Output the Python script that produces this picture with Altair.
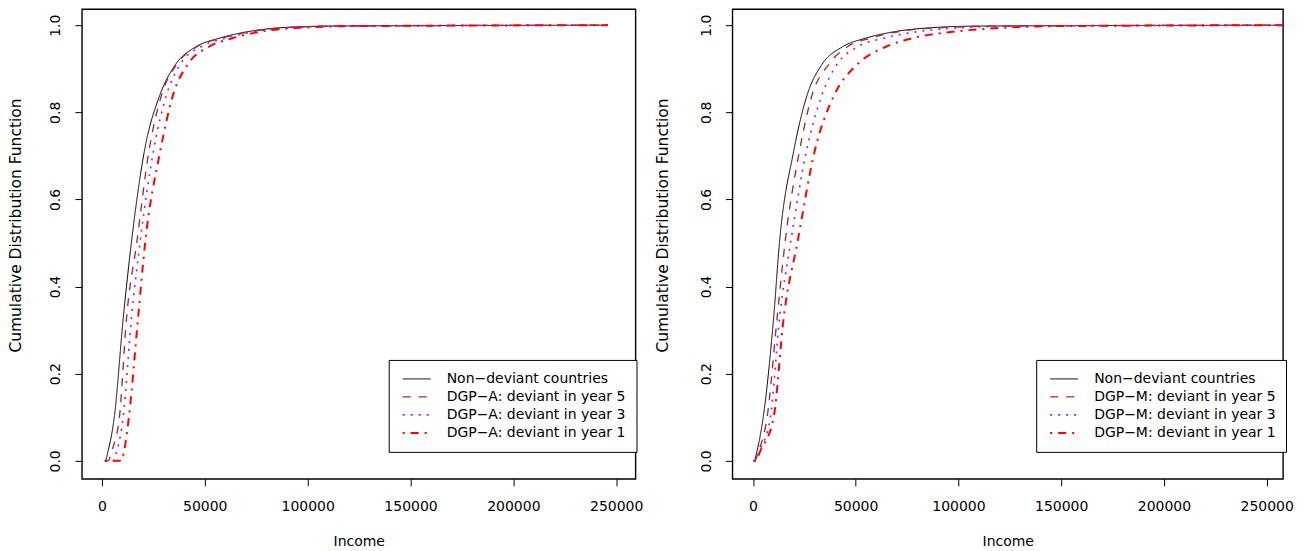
import altair as alt
import pandas as pd

# CDF levels shared by all curves (first two zeros: common start, then leave point)
cdf_levels = [0, 0, 0.023, 0.1, 0.33, 0.5, 0.71, 0.84, 0.91, 0.95, 0.97, 0.986, 0.994, 0.998, 1.0]

# Left panel (DGP-A): income at each CDF level
left_nondeviant = [1400, 1600, 3000, 6000, 10400, 14300, 20600, 28200, 35800, 45500, 57000, 72000, 86500, 112000, 246000]
left_year5 = [1400, 3000, 4800, 8500, 12000, 16900, 22800, 29000, 36300, 46000, 58000, 73000, 88000, 115000, 246000]
left_year3 = [1400, 5500, 7300, 10300, 14400, 18500, 25000, 31400, 38000, 48000, 60000, 75000, 90000, 118000, 246000]
left_year1 = [1400, 9300, 10800, 13100, 17600, 21000, 28300, 34600, 41700, 51800, 63400, 78300, 96000, 125000, 246000]

# Right panel (DGP-M)
right_nondeviant = [300, 600, 2000, 5000, 10100, 12900, 19800, 26400, 33600, 43400, 54700, 70100, 86300, 110000, 262000]
right_year5 = [300, 800, 2800, 6900, 11800, 15600, 22600, 28800, 36900, 45800, 57100, 71700, 90000, 120000, 262000]
right_year3 = [300, 1000, 3200, 8500, 13000, 18300, 26000, 33600, 40900, 50700, 63600, 81400, 100000, 130000, 262000]
right_year1 = [300, 1200, 3600, 10100, 15000, 21600, 30000, 39600, 50800, 64500, 77500, 99300, 121800, 150000, 262000]

left_labels = ["Non\u2212deviant countries", "DGP\u2212A: deviant in year 5",
               "DGP\u2212A: deviant in year 3", "DGP\u2212A: deviant in year 1"]
right_labels = ["Non\u2212deviant countries", "DGP\u2212M: deviant in year 5",
                "DGP\u2212M: deviant in year 3", "DGP\u2212M: deviant in year 1"]

x_ticks = [0, 50000, 100000, 150000, 200000, 250000]
y_ticks = [0.0, 0.2, 0.4, 0.6, 0.8, 1.0]

colors = ["#000000", "#A52A2A", "#A020F0", "#FF0000"]
dashes = [[1, 0], [8, 8], [2, 6], [2, 6, 8, 6]]
widths = [1, 2, 2, 2]

FONT = "DejaVu Sans"


def make_df(labels, series):
    rows = []
    for lab, inc in zip(labels, series):
        for x, c in zip(inc, cdf_levels):
            rows.append({"series": lab, "income": x, "cdf": c})
    return pd.DataFrame(rows)


def panel(df, labels, xdom, title_x, legend_x, width):
    leg = alt.Legend(
        title=None, orient="none", legendX=legend_x, legendY=351,
        symbolType="stroke", symbolSize=784, labelFont=FONT, labelFontSize=14,
        labelColor="black", strokeColor="black", fillColor="white", padding=10,
        clipHeight=18, rowPadding=0, labelOffset=15, symbolOffset=3, labelLimit=400,
        cornerRadius=0,
    )
    return alt.Chart(df).mark_line(clip=True, interpolate="monotone").encode(
        x=alt.X("income:Q",
                scale=alt.Scale(domain=xdom, nice=False, zero=False),
                axis=alt.Axis(values=x_ticks, format="d", title="Income", grid=False, domain=False,
                              tickColor="black", tickSize=7, tickWidth=1,
                              labelColor="black", labelFont=FONT, labelFontSize=14,
                              labelPadding=14, labelFlush=False, labelOverlap=False,
                              titleFont=FONT, titleFontSize=14, titleFontWeight="normal",
                              titleColor="black", titleY=67, titleBaseline="alphabetic")),
        y=alt.Y("cdf:Q",
                scale=alt.Scale(domain=[-0.0413, 1.0367], nice=False, zero=False),
                axis=alt.Axis(values=y_ticks, format=".1f", title="Cumulative Distribution Function",
                              grid=False, domain=False, tickColor="black", tickSize=7, tickWidth=1,
                              labelColor="black", labelFont=FONT, labelFontSize=14,
                              labelAngle=270, labelAlign="center", labelBaseline="alphabetic",
                              labelPadding=15, labelFlush=False, labelOverlap=False,
                              titleFont=FONT, titleFontSize=15.5, titleFontWeight="normal",
                              titleColor="black", titleAngle=270, titleX=title_x, titleY=216,
                              titleAlign="center", titleBaseline="alphabetic")),
        color=alt.Color("series:N", scale=alt.Scale(domain=labels, range=colors), legend=leg),
        strokeDash=alt.StrokeDash("series:N", scale=alt.Scale(domain=labels, range=dashes), legend=leg),
        strokeWidth=alt.StrokeWidth("series:N", scale=alt.Scale(domain=labels, range=widths), legend=leg),
    ).properties(width=width, height=470, view=alt.ViewBackground(stroke="#000000", strokeWidth=1.4))


left_df = make_df(left_labels, [left_nondeviant, left_year5, left_year3, left_year1])
right_df = make_df(right_labels, [right_nondeviant, right_year5, right_year3, right_year1])

left = panel(left_df, left_labels, [-9714, 259374], -61, 307, 554)
right = panel(right_df, right_labels, [-9967, 257925], -65, 304, 551)

chart = alt.hconcat(left, right, spacing=10).resolve_scale(
    color="independent", strokeDash="independent", strokeWidth="independent", x="independent", y="independent"
).resolve_legend(
    color="independent", strokeDash="independent", strokeWidth="independent"
).properties(
    padding={"left": 0, "top": 0, "right": 0, "bottom": 0}
).configure_view(
    stroke="#000000", strokeWidth=1.4
).configure(background="white")

chart.save("out.html", embed_options={"renderer": "svg", "actions": False})
